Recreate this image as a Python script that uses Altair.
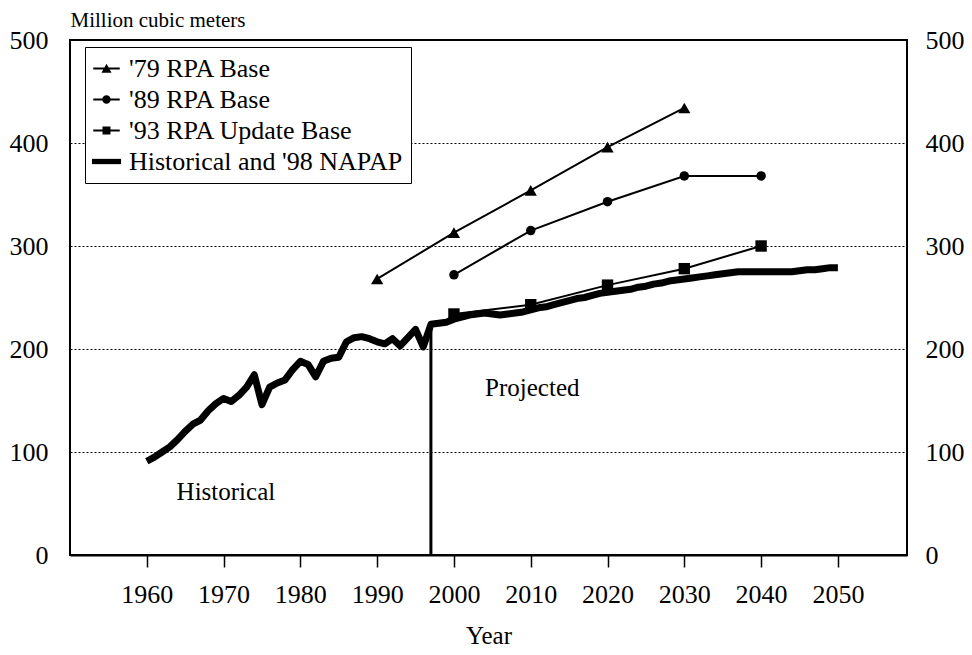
import altair as alt
import pandas as pd

# ---------------- data ----------------
series_names = ["'79 RPA Base", "'89 RPA Base", "'93 RPA Update Base", "Historical and '98 NAPAP"]

rpa79_years = [1990, 2000, 2010, 2020, 2030]
rpa79_vals = [268, 313, 354, 396, 434]
rpa89_years = [2000, 2010, 2020, 2030, 2040]
rpa89_vals = [272, 315, 343, 368, 368]
rpa93_years = [2000, 2010, 2020, 2030, 2040]
rpa93_vals = [234, 243, 262, 278, 300]

hist_years = list(range(1960, 1998))
hist_vals = [91, 95, 100, 105, 112, 120, 127, 131, 140, 147,
             152, 149, 155, 163, 175, 146, 163, 167, 170, 180,
             188, 185, 173, 188, 191, 192, 207, 211, 212, 210,
             207, 205, 210, 203, 211, 219, 202, 224]
proj_years = list(range(1998, 2051))
proj_vals = [225, 226, 229, 231, 233, 234, 235, 234, 233, 234,
             235, 236, 238, 240, 241, 243, 245, 247, 249, 250,
             252, 254, 255, 256, 257, 258, 260, 261, 263, 264,
             266, 267, 268, 269, 270, 271, 272, 273, 274, 275,
             275, 275, 275, 275, 275, 275, 275, 276, 277, 277,
             278, 279, 279]

vline_year = [1997]
vline_top = [224]

annot_text = ["Historical", "Projected"]
annot_year = [1970.3, 2010.2]
annot_val = [61, 162]

y_ticks = [0, 100, 200, 300, 400, 500]
x_ticks = [1960, 1970, 1980, 1990, 2000, 2010, 2020, 2030, 2040, 2050]

# ---------------- tables ----------------
rows = []
for yrs, vals, name in [(rpa79_years, rpa79_vals, series_names[0]),
                        (rpa89_years, rpa89_vals, series_names[1]),
                        (rpa93_years, rpa93_vals, series_names[2])]:
    for yr, v in zip(yrs, vals):
        rows.append({"year": yr, "value": v, "series": name})
rpa_df = pd.DataFrame(rows)

heavy_df = pd.DataFrame({"year": hist_years + proj_years,
                         "value": hist_vals + proj_vals,
                         "series": series_names[3]})
all_df = pd.concat([rpa_df, heavy_df], ignore_index=True)
vline_df = pd.DataFrame({"year": vline_year, "top": vline_top, "bottom": [0]})
annot_df = pd.DataFrame({"text": annot_text, "year": annot_year, "value": annot_val})

FONT = "Liberation Serif"
TICK_FS = 26
xscale = alt.Scale(domain=[1950, 2059], nice=False, zero=False)
yscale = alt.Scale(domain=[0, 500], nice=False)

x_enc = alt.X("year:Q", scale=xscale,
              axis=alt.Axis(values=x_ticks, format="d", tickSize=12, tickWidth=1.5,
                            tickColor="black", labelPadding=14, labelFontSize=TICK_FS,
                            labelFont=FONT, labelColor="black", grid=False,
                            domainColor="black", domainWidth=2,
                            title="Year", titleFont=FONT, titleFontSize=25,
                            titleFontWeight="normal", titleColor="black", titlePadding=16))

y_left = alt.Y("value:Q", scale=yscale,
               axis=alt.Axis(orient="left", values=y_ticks, ticks=False, domain=False,
                             labelPadding=22, labelFontSize=TICK_FS, labelFont=FONT,
                             labelColor="black", grid=True, gridDash=[2, 2],
                             gridColor="black", gridWidth=1,
                             title="Million cubic meters", titleAngle=0, titleAlign="left",
                             titleBaseline="middle", titleX=0, titleY=-20, titleLimit=400,
                             titleFont=FONT, titleFontSize=21, titleFontWeight="normal",
                             titleColor="black"))

# thin RPA lines
thin = alt.Chart(rpa_df).mark_line(color="black", strokeWidth=2).encode(
    x=x_enc, y=y_left, detail="series:N")

# markers
shape_map = {series_names[0]: "triangle-up", series_names[1]: "circle", series_names[2]: "square"}
size_map = {series_names[0]: 150, series_names[1]: 90, series_names[2]: 130}
markers = []
for name in series_names[:3]:
    markers.append(
        alt.Chart(rpa_df[rpa_df.series == name]).mark_point(
            color="black", filled=True, opacity=1, shape=shape_map[name], size=size_map[name]
        ).encode(x="year:Q", y="value:Q"))

# vertical divider
vrule = alt.Chart(vline_df).mark_rule(color="black", strokeWidth=3).encode(
    x="year:Q", y="bottom:Q", y2="top:Q")

# annotations
annots = alt.Chart(annot_df).mark_text(font=FONT, fontSize=25, color="black").encode(
    x="year:Q", y="value:Q", text="text:N")

# legend symbols (custom paths: line + marker)
bar_thin = "M-1,-0.075H1V0.075H-1Z "
legend_paths = [
    bar_thin + "M-0.38,0.32L0,-0.36L0.38,0.32Z",
    bar_thin + "M-0.32,0A0.32,0.32 0 1 1 0.32,0A0.32,0.32 0 1 1 -0.32,0Z",
    bar_thin + "M-0.3,-0.3H0.3V0.3H-0.3Z",
    "M-1.1,-0.2H1.1V0.2H-1.1Z",
]
legend_layer = alt.Chart(all_df).mark_point(color="black", filled=True, opacity=0, size=700).encode(
    x="year:Q", y="value:Q",
    shape=alt.Shape("series:N", sort=None,
                    scale=alt.Scale(domain=series_names, range=legend_paths),
                    legend=alt.Legend(orient="none", legendX=15, legendY=7, title=None,
                                      labelFont=FONT, labelFontSize=26, labelColor="black",
                                      labelLimit=500, labelOffset=9, symbolSize=700,
                                      symbolOpacity=1, symbolFillColor="black",
                                      symbolStrokeWidth=0, rowPadding=4, padding=8,
                                      strokeColor="black", fillColor="white")))

left = alt.layer(thin, *markers, vrule, annots, legend_layer)

# heavy historical + projected line with the right-hand axis
heavy = alt.Chart(heavy_df).mark_line(color="black", strokeWidth=7, strokeJoin="round").encode(
    x=alt.X("year:Q", scale=xscale),
    y=alt.Y("value:Q", scale=yscale,
            axis=alt.Axis(orient="right", values=y_ticks, ticks=False, domain=False,
                          labelPadding=18, labelFontSize=TICK_FS, labelFont=FONT,
                          labelColor="black", grid=False, title=None)))

chart = alt.layer(heavy, left).resolve_scale(y="independent").properties(
    width=837, height=515,
    autosize=alt.AutoSizeParams(type="none"),
    padding={"left": 62, "top": 32, "right": 57, "bottom": 100},
    background="white",
).configure_view(stroke="black", strokeWidth=2)

chart.save("out.html", embed_options={"renderer": "svg", "actions": False})
